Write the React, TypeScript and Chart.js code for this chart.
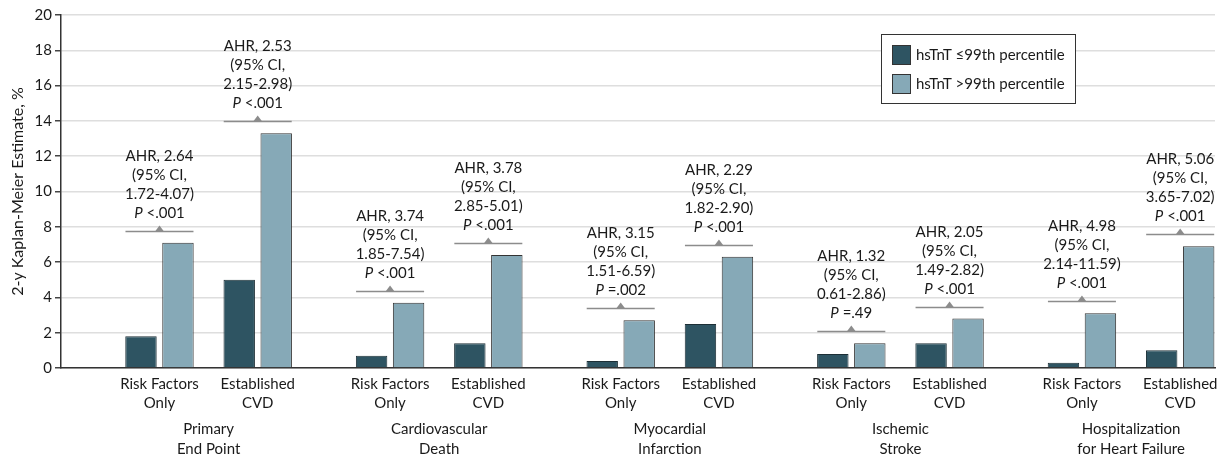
import React, { useEffect, useRef } from "react";
import { Chart, registerables } from "chart.js";

Chart.register(...registerables);

const groups = [
  ["Primary", "End Point"],
  ["Cardiovascular", "Death"],
  ["Myocardial", "Infarction"],
  ["Ischemic", "Stroke"],
  ["Hospitalization", "for Heart Failure"],
];
const subgroups = [
  ["Risk Factors", "Only"],
  ["Established", "CVD"],
];
const seriesLabels = ["hsTnT \u226499th percentile", "hsTnT >99th percentile"];
const lowTnT = [1.8, 5.0, 0.7, 1.4, 0.4, 2.5, 0.8, 1.4, 0.3, 1.0];
const highTnT = [7.1, 13.3, 3.7, 6.4, 2.7, 6.3, 1.4, 2.8, 3.1, 6.9];
const ahrValues = ["2.64", "2.53", "3.74", "3.78", "3.15", "2.29", "1.32", "2.05", "4.98", "5.06"];
const ciValues = [
  "1.72-4.07", "2.15-2.98", "1.85-7.54", "2.85-5.01", "1.51-6.59",
  "1.82-2.90", "0.61-2.86", "1.49-2.82", "2.14-11.59", "3.65-7.02",
];
const pValues = ["<.001", "<.001", "<.001", "<.001", "=.002", "<.001", "=.49", "<.001", "<.001", "<.001"];
const yTitle = "2-y Kaplan-Meier Estimate, %";

const FONT = "Lato";
const TEXT = "#1a1a1a";
const DARK = "#2e5462";
const LIGHT = "#86a9b7";
const SUB_OFFSET = 0.213;

const xPos = lowTnT.map((_, k) => Math.floor(k / 2) + (k % 2 === 0 ? -SUB_OFFSET : SUB_OFFSET));

const annotPlugin = {
  id: "annot",
  afterDatasetsDraw(chart: any) {
    const ctx = chart.ctx;
    const xs = chart.scales.x;
    const ys = chart.scales.y;
    const area = chart.chartArea;
    ctx.save();
    for (let k = 0; k < lowTnT.length; k++) {
      const cx = xs.getPixelForValue(xPos[k]);
      const top = ys.getPixelForValue(Math.max(lowTnT[k], highTnT[k]));
      const by = Math.round(top - 12) + 0.5;
      ctx.strokeStyle = "#8c8c8c";
      ctx.lineWidth = 1.5;
      ctx.beginPath();
      ctx.moveTo(cx - 34, by);
      ctx.lineTo(cx + 34, by);
      ctx.stroke();
      ctx.fillStyle = "#8c8c8c";
      ctx.beginPath();
      ctx.moveTo(cx - 4.5, by);
      ctx.lineTo(cx + 4.5, by);
      ctx.lineTo(cx, by - 6);
      ctx.closePath();
      ctx.fill();
      ctx.fillStyle = TEXT;
      ctx.textBaseline = "middle";
      ctx.textAlign = "center";
      ctx.font = `15px ${FONT}`;
      const lines = [`AHR, ${ahrValues[k]}`, "(95% CI,", `${ciValues[k]})`];
      lines.forEach((t, i) => {
        ctx.fillText(t, cx, by - 18 - (3 - i) * 19);
      });
      const py = by - 18;
      ctx.font = `italic 15px ${FONT}`;
      const wP = ctx.measureText("P").width;
      ctx.font = `15px ${FONT}`;
      const rest = " " + pValues[k];
      const wR = ctx.measureText(rest).width;
      const start = cx - (wP + wR) / 2;
      ctx.textAlign = "left";
      ctx.font = `italic 15px ${FONT}`;
      ctx.fillText("P", start, py);
      ctx.font = `15px ${FONT}`;
      ctx.fillText(rest, start + wP, py);
    }
    ctx.fillStyle = TEXT;
    ctx.textAlign = "center";
    ctx.textBaseline = "middle";
    ctx.font = `15px ${FONT}`;
    for (let k = 0; k < lowTnT.length; k++) {
      const cx = xs.getPixelForValue(xPos[k]);
      const sg = subgroups[k % 2];
      ctx.fillText(sg[0], cx, area.bottom + 16);
      ctx.fillText(sg[1], cx, area.bottom + 35);
    }
    groups.forEach((g, i) => {
      const cx = xs.getPixelForValue(i);
      ctx.fillText(g[0], cx, area.bottom + 61);
      ctx.fillText(g[1], cx, area.bottom + 81);
    });
    ctx.save();
    ctx.font = `16px ${FONT}`;
    ctx.translate(18, (area.top + area.bottom) / 2);
    ctx.rotate(-Math.PI / 2);
    ctx.fillText(yTitle, 0, 0);
    ctx.restore();
    ctx.strokeStyle = "#333";
    ctx.lineWidth = 1;
    ctx.fillStyle = "#fff";
    ctx.fillRect(881, 34, 194, 69);
    ctx.strokeRect(881.5, 34.5, 194, 69);
    const colors = [DARK, LIGHT];
    seriesLabels.forEach((lab, i) => {
      const y0 = 45 + i * 29;
      ctx.fillStyle = colors[i];
      ctx.fillRect(892, y0, 18, 19);
      ctx.strokeStyle = "#333";
      ctx.strokeRect(892.5, y0 + 0.5, 18, 19);
      ctx.fillStyle = TEXT;
      ctx.textAlign = "left";
      ctx.fillText(lab, 916, y0 + 10);
    });
    ctx.restore();
  },
};

export default function App() {
  const ref = useRef<HTMLCanvasElement>(null);
  useEffect(() => {
    document.body.style.margin = "0";
    const chart = new Chart(ref.current as HTMLCanvasElement, {
      type: "bar",
      data: {
        datasets: [
          {
            label: seriesLabels[0],
            data: lowTnT.map((v, k) => ({ x: xPos[k], y: v })),
            backgroundColor: DARK,
            borderColor: "#1d2f36",
            borderWidth: 1,
            categoryPercentage: 0.753,
            barPercentage: 0.85,
          },
          {
            label: seriesLabels[1],
            data: highTnT.map((v, k) => ({ x: xPos[k], y: v })),
            backgroundColor: LIGHT,
            borderColor: "#333",
            borderWidth: 1,
            categoryPercentage: 0.753,
            barPercentage: 0.85,
          },
        ],
      } as any,
      options: {
        responsive: false,
        animation: false,
        layout: { padding: { top: 15, right: 7, left: 0, bottom: 0 } },
        plugins: { legend: { display: false }, tooltip: { enabled: false } },
        scales: {
          x: {
            type: "linear",
            offset: false,
            min: -0.64,
            max: 4.364,
            afterBuildTicks: (s: any) => {
              s.ticks = groups.map((_, i) => ({ value: i }));
            },
            ticks: { display: false },
            grid: { display: false },
            border: { display: true, color: "#333", width: 1.5 },
            afterFit: (s: any) => {
              s.height = 94;
            },
          },
          y: {
            min: 0,
            max: 20,
            ticks: { stepSize: 2, color: TEXT, font: { family: FONT, size: 15 }, padding: 3 },
            grid: { color: "#dedede", lineWidth: 1.5, tickColor: "#444", tickLength: 6 },
            border: { display: true, color: "#333", width: 1.5 },
            afterFit: (s: any) => {
              s.width = 61;
            },
          },
        },
      } as any,
      plugins: [annotPlugin],
    });
    return () => chart.destroy();
  }, []);
  return (
    <div style={{ width: 1222, height: 462 }}>
      <canvas ref={ref} width={1222} height={462} />
    </div>
  );
}
